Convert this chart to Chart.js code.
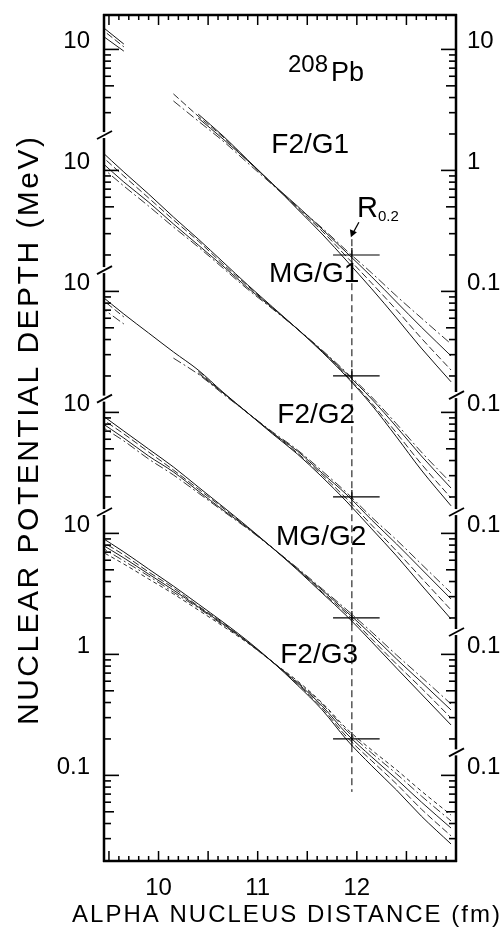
<!DOCTYPE html>
<html>
<head>
<meta charset="utf-8">
<title>208Pb alpha potential depth</title>
<script src="https://cdn.jsdelivr.net/npm/chart.js@4.4.0/dist/chart.umd.min.js"></script>
<style>
  html, body { margin: 0; padding: 0; background: #fff; }
  #wrap { width: 503px; height: 932px; position: relative; }
</style>
</head>
<body>
<div id="wrap"><canvas id="myChart"></canvas></div>
<script>
// Real potential tails for alpha + 208Pb, five fit families.
// Each family is drawn one decade above the one below it.

const ctx = document.querySelector("#myChart");

// sampling radii (fm)
const distance = [9.4, 9.65, 9.9, 10.15, 10.4, 10.65, 10.9, 11.15, 11.4, 11.65, 11.9, 12.15, 12.4, 12.65, 12.95];

// depth in MeV, one row per potential of the family (null = not drawn)
const f2g1 = [
  [16.2, 11.07, null, null, 2.92, 1.93, 1.22, 0.773, 0.480, 0.298, 0.178, 0.105, 0.0603, 0.0340, 0.0179],
  [15.3, 10.5, null, 4.29, 2.81, 1.89, 1.20, 0.773, 0.490, 0.315, 0.192, 0.117, 0.0702, 0.0411, 0.0224],
  [13.6, 9.68, null, null, 2.71, 1.82, 1.20, 0.773, 0.508, 0.327, 0.208, 0.132, 0.0817, 0.0507, 0.0293],
  [null, null, null, 3.75, 2.56, 1.75, 1.15, 0.759, 0.499, 0.334, 0.216, 0.142, 0.0916, 0.0603, 0.0368],
];
const mgg1 = [
  [15.0, 9.70, 6.38, 4.12, 2.71, 1.75, 1.13, 0.743, 0.489, 0.315, 0.196, 0.115, 0.0627, 0.0334, 0.0169],
  [13.7, 8.99, 5.92, 3.90, 2.61, 1.68, 1.11, 0.729, 0.489, 0.321, 0.200, 0.119, 0.0676, 0.0375, 0.0196],
  [12.2, 8.02, 5.47, 3.61, 2.42, 1.62, 1.07, 0.729, 0.489, 0.321, 0.207, 0.129, 0.0759, 0.0437, 0.0237],
  [11.1, 7.43, 5.07, 3.41, 2.33, 1.56, 1.04, 0.716, 0.489, 0.327, 0.212, 0.134, 0.0804, 0.0471, 0.0261],
];
const f2g2 = [
  [9.53, 6.50, 4.53, 3.16, 2.24, 1.47, 0.989, 0.664, 0.453, 0.292, 0.182, 0.109, 0.0652, 0.0375, 0.0196],
  [8.99, 6.15, null, null, 2.20, 1.45, 0.989, 0.676, 0.462, 0.304, 0.192, 0.117, 0.0716, 0.0429, 0.0233],
  [null, null, null, null, 2.12, 1.45, 0.989, 0.676, 0.480, 0.315, 0.208, 0.129, 0.0818, 0.0508, 0.0287],
  [7.57, 5.38, null, 2.81, 2.07, 1.42, 0.989, 0.689, 0.490, 0.328, 0.216, 0.136, 0.0883, 0.0558, 0.0322],
];
const mgg2 = [
  [9.89, 7.01, 4.98, 3.54, 2.42, 1.66, 1.13, 0.757, 0.499, 0.321, 0.207, 0.127, 0.0771, 0.0471, 0.0261],
  [9.16, 6.64, 4.71, 3.34, 2.33, 1.62, 1.11, 0.757, 0.508, 0.328, 0.216, 0.134, 0.0832, 0.0527, 0.0298],
  [8.47, 6.14, 4.36, 3.22, 2.24, 1.56, 1.11, 0.757, 0.508, 0.340, 0.224, 0.145, 0.0916, 0.0592, 0.0347],
  [7.85, 5.81, 4.12, 3.04, 2.16, 1.53, 1.09, 0.757, 0.518, 0.348, 0.233, 0.153, 0.0989, 0.0650, 0.0389],
];
const f2g3 = [
  [9.53, 7.03, 5.07, 3.67, 2.61, 1.85, 1.29, 0.865, 0.558, 0.348, 0.196, 0.120, 0.0757, 0.0461, 0.0271],
  [8.83, 6.64, 4.80, 3.54, 2.51, 1.82, 1.26, 0.865, 0.570, 0.361, 0.207, 0.132, 0.0849, 0.0527, 0.0316],
  [8.34, 6.27, 4.61, 3.40, 2.47, 1.78, 1.26, 0.865, 0.581, 0.375, 0.220, 0.142, 0.0933, 0.0603, 0.0367],
  [7.87, 5.92, 4.44, 3.27, 2.42, 1.75, 1.26, 0.865, 0.592, 0.390, 0.233, 0.153, 0.103, 0.0676, 0.0420],
  [7.29, 5.58, 4.20, 3.16, 2.33, 1.71, 1.24, 0.865, 0.604, 0.397, 0.242, 0.162, 0.111, 0.0743, 0.0470],
];

const familyNames = ["F2/G1", "MG/G1", "F2/G2", "MG/G2", "F2/G3"];
const familyShift = [1e4, 1e3, 1e2, 1e1, 1];

// labelled ticks on each side, in MeV of the family
const leftTickValues = [[10], [10], [10], [10], [10, 1, 0.1]];
const rightTickValues = [[10, 1, 0.1], [0.1], [0.1], [0.1], [0.1]];
const xTickLabels = [10, 11, 12];

// axis breaks between families (shifted units)
const leftBreaks = [19600, 1500, 130, 15];
const rightBreaks = [139, 15, 1.53, 0.155];

// R_0.2 : radius where the depth is 0.2 MeV
const rDepth = 0.2;
const rRadius = 11.95;

// where the family names sit (fm, MeV of the family)
const labelFm = [11.53, 11.57, 11.59, 11.64, 11.62];
const labelDepth = [1.62, 1.39, 0.95, 0.93, 0.99];

const FONT = "'Liberation Sans', Arial, sans-serif";
const lineDash = [[], [7, 3], [], [9, 3, 2, 3], [4, 3]];
const lineColor = ["#111", "#2b2b2b", "#1c1c1c", "#333", "#2b2b2b"];

const families = [f2g1, mgg1, f2g2, mgg2, f2g3];
const datasets = [];
families.forEach((fam, k) => {
  fam.forEach((row, i) => {
    datasets.push({
      label: familyNames[k] + " #" + (i + 1),
      data: distance.map((x, j) => ({ x: x, y: row[j] === null ? null : row[j] * familyShift[k] })),
      borderColor: lineColor[i],
      borderWidth: 1,
      borderDash: lineDash[i],
      pointRadius: 0,
      spanGaps: false,
      cubicInterpolationMode: "monotone",
    });
  });
});

function spacedText(c, text, x, y, width) {
  if ("letterSpacing" in c) {
    c.letterSpacing = "0px";
    const w = c.measureText(text).width;
    c.letterSpacing = (width - w) / (text.length - 1) + "px";
    c.fillText(text, x, y);
    c.letterSpacing = "0px";
  } else {
    const w = c.measureText(text).width;
    c.save();
    c.translate(x, y);
    c.scale(width / w, 1);
    c.fillText(text, 0, 0);
    c.restore();
  }
}

// frame, inward ticks, broken side axes and annotations
const frame = {
  id: "frame",
  afterDraw(chart) {
    const c = chart.ctx;
    const { left, right, top, bottom } = chart.chartArea;
    const px = (v) => chart.scales.x.getPixelForValue(v);
    const py = (v) => chart.scales.y.getPixelForValue(v);
    c.save();
    c.strokeStyle = "#000";
    c.fillStyle = "#000";
    c.lineCap = "butt";

    c.lineWidth = 2.5;
    c.beginPath();
    c.moveTo(left - 1, top);
    c.lineTo(right + 1, top);
    c.moveTo(left - 1, bottom);
    c.lineTo(right + 1, bottom);
    c.stroke();

    // x ticks every 0.1 fm, longer on the half fm
    c.lineWidth = 1.5;
    for (let i = 95; i <= 129; i++) {
      const x = px(i / 10);
      const len = i % 5 === 0 ? 10 : 5;
      c.beginPath();
      c.moveTo(x, bottom);
      c.lineTo(x, bottom - len);
      c.moveTo(x, top);
      c.lineTo(x, top + len);
      c.stroke();
    }

    function side(x, breaks, dir, values, labelX, align) {
      const yb = breaks.map(py);
      const edges = [top].concat(yb, [bottom]);
      c.lineWidth = 2.5;
      for (let k = 0; k < edges.length - 1; k++) {
        c.beginPath();
        c.moveTo(x, k === 0 ? edges[k] - 1 : edges[k] + 3);
        c.lineTo(x, k === edges.length - 2 ? edges[k + 1] + 1 : edges[k + 1] - 3);
        c.stroke();
      }
      c.lineWidth = 1.8;
      yb.forEach((y) => {
        c.beginPath();
        c.moveTo(x - 7, y + 4);
        c.lineTo(x + 8, y - 4);
        c.stroke();
      });
      c.lineWidth = 1.6;
      for (let k = 0; k < 5; k++) {
        const y0 = edges[k], y1 = edges[k + 1];
        for (let e = -3; e <= 2; e++) {
          for (let m = 1; m <= 9; m++) {
            const y = py(m * Math.pow(10, e) * familyShift[k]);
            if (y < y0 + 3 || y > y1 - 3) continue;
            const len = m === 1 ? 15 : m === 5 ? 10 : 7;
            c.beginPath();
            c.moveTo(x, y);
            c.lineTo(x + dir * len, y);
            c.stroke();
          }
        }
        c.font = "24px " + FONT;
        c.textAlign = align;
        c.textBaseline = "middle";
        values[k].forEach((v) => {
          c.fillText(String(v), labelX, py(v * familyShift[k]) - 8);
        });
      }
    }
    side(left, leftBreaks, 1, leftTickValues, left - 14, "right");
    side(right, rightBreaks, -1, rightTickValues, right + 11, "left");

    // x tick labels and titles
    c.font = "24px " + FONT;
    c.textAlign = "center";
    c.textBaseline = "alphabetic";
    xTickLabels.forEach((t) => c.fillText(String(t), px(t), bottom + 34));

    c.textAlign = "left";
    spacedText(c, "ALPHA NUCLEUS DISTANCE (fm)", 72, bottom + 61, 428);

    c.save();
    c.translate(29, 431);
    c.rotate(-Math.PI / 2);
    c.font = "30px " + FONT;
    c.textBaseline = "middle";
    spacedText(c, "NUCLEAR POTENTIAL DEPTH (MeV)", -294, 1, 588);
    c.restore();

    // family names
    c.font = "28px " + FONT;
    c.textAlign = "center";
    c.textBaseline = "middle";
    familyNames.forEach((name, k) => {
      c.fillText(name, px(labelFm[k]), py(labelDepth[k] * familyShift[k]));
    });

    // 208Pb
    c.textAlign = "left";
    c.textBaseline = "alphabetic";
    c.font = "24px " + FONT;
    c.fillText("208", left + 184, top + 57);
    c.font = "27px " + FONT;
    c.fillText("Pb", left + 227, top + 66);

    // R_0.2 marks
    const xr = px(rRadius);
    c.lineWidth = 1.2;
    familyShift.forEach((s) => {
      const y = py(rDepth * s);
      c.beginPath();
      c.moveTo(px(11.76), y);
      c.lineTo(px(12.23), y);
      c.moveTo(xr, py(rDepth * s * 1.14));
      c.lineTo(xr, py(rDepth * s / 1.14));
      c.stroke();
    });
    const yTop = py(0.27 * familyShift[0]);
    const yBot = py(0.073);
    c.lineWidth = 1;
    c.setLineDash([7, 4]);
    c.beginPath();
    c.moveTo(xr, yTop);
    c.lineTo(xr, yBot);
    c.stroke();
    c.setLineDash([]);

    // arrow to the top of the R_0.2 line
    const tipX = xr - 1, tipY = yTop - 2;
    c.lineWidth = 1.3;
    c.beginPath();
    c.moveTo(tipX + 8, tipY - 15);
    c.lineTo(tipX + 2, tipY - 4);
    c.stroke();
    c.beginPath();
    c.moveTo(tipX, tipY);
    c.lineTo(tipX - 1, tipY - 8);
    c.lineTo(tipX + 6, tipY - 5);
    c.closePath();
    c.fill();

    c.font = "29px " + FONT;
    c.fillText("R", tipX + 6, tipY - 20);
    c.font = "15px " + FONT;
    c.fillText("0.2", tipX + 27, tipY - 16);

    c.restore();
  },
};

const data = { datasets: datasets };

const config = {
  type: "line",
  data: data,
  options: {
    responsive: true,
    maintainAspectRatio: false,
    devicePixelRatio: 1,
    animation: false,
    layout: { padding: { left: 104, right: 47, top: 15, bottom: 71 } },
    plugins: { legend: { display: false }, tooltip: { enabled: false } },
    scales: {
      x: { type: "linear", min: 9.45, max: 13.0, display: false },
      y: { type: "logarithmic", min: 0.0196, max: 1.925e5, display: false },
    },
  },
  plugins: [frame],
};

const chart = new Chart(ctx, config);
</script>
</body>
</html>
